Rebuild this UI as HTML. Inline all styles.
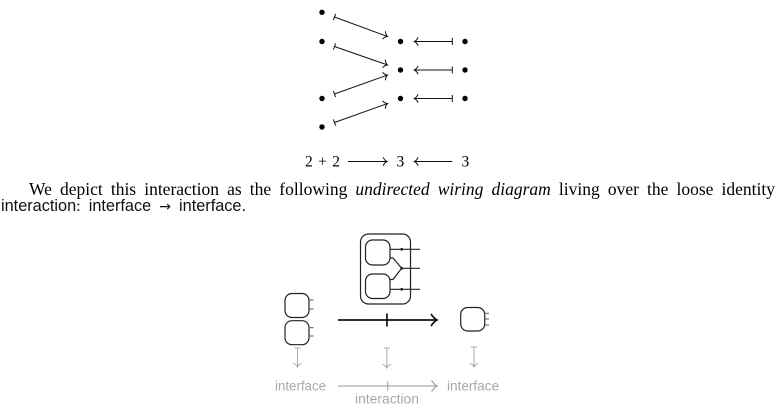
<!DOCTYPE html>
<html>
<head>
<meta charset="utf-8">
<style>
html,body{margin:0;padding:0;background:#fff;}
body{position:relative;width:778px;height:414px;overflow:hidden;}
svg{display:block;position:absolute;left:0;top:0;}
.l1{position:absolute;left:29px;top:179.1px;width:746px;font-family:"Liberation Serif",serif;font-size:17.5px;line-height:20px;text-align:justify;text-align-last:justify;color:#000;white-space:normal;}
.l2{position:absolute;left:1px;top:197.3px;width:245px;font-family:"Liberation Sans",sans-serif;font-size:16.3px;line-height:18px;text-align:justify;text-align-last:justify;color:#111;}
.sf{font-family:"Liberation Serif",serif;}
.ar{font-family:"DejaVu Sans",sans-serif;font-size:14px;}
</style>
</head>
<body>
<svg width="778" height="414" viewBox="0 0 778 414" xmlns="http://www.w3.org/2000/svg">
<defs>
<path id="hd" d="M-3.8,-4.2 C-2.6,-1.6 -1.2,-0.5 0,0 C-1.2,0.5 -2.6,1.6 -3.8,4.2" fill="none"/>
</defs>

<g fill="#000">
<circle cx="322" cy="12.3" r="2.7"/>
<circle cx="322" cy="41.5" r="2.7"/>
<circle cx="322" cy="98.5" r="2.7"/>
<circle cx="322" cy="127" r="2.7"/>
<circle cx="400.5" cy="41.5" r="2.7"/>
<circle cx="400.5" cy="70" r="2.7"/>
<circle cx="400.5" cy="98.5" r="2.7"/>
<circle cx="465" cy="41.5" r="2.7"/>
<circle cx="465" cy="70" r="2.7"/>
<circle cx="465" cy="98.5" r="2.7"/>
</g>
<g stroke="#111" stroke-width="1" fill="none">
<g transform="translate(334.5,17) rotate(20.2)">
<line x1="0" y1="0" x2="56.5" y2="0"/><line x1="0" y1="-3.3" x2="0" y2="3.3"/><use href="#hd" x="56.5" y="0"/>
</g>
<g transform="translate(334.5,46.5) rotate(19.2)">
<line x1="0" y1="0" x2="56.1" y2="0"/><line x1="0" y1="-3.3" x2="0" y2="3.3"/><use href="#hd" x="56.1" y="0"/>
</g>
<g transform="translate(334.5,94) rotate(-19.7)">
<line x1="0" y1="0" x2="56.3" y2="0"/><line x1="0" y1="-3.3" x2="0" y2="3.3"/><use href="#hd" x="56.3" y="0"/>
</g>
<g transform="translate(334.5,122.5) rotate(-19.7)">
<line x1="0" y1="0" x2="56.3" y2="0"/><line x1="0" y1="-3.3" x2="0" y2="3.3"/><use href="#hd" x="56.3" y="0"/>
</g>
<g transform="translate(414.3,41.5) rotate(180)">
<line x1="0" y1="0" x2="-38" y2="0"/><line x1="-38" y1="-3.5" x2="-38" y2="3.5"/><use href="#hd"/>
</g>
<g transform="translate(414.3,70) rotate(180)">
<line x1="0" y1="0" x2="-38" y2="0"/><line x1="-38" y1="-3.5" x2="-38" y2="3.5"/><use href="#hd"/>
</g>
<g transform="translate(414.3,98.5) rotate(180)">
<line x1="0" y1="0" x2="-38" y2="0"/><line x1="-38" y1="-3.5" x2="-38" y2="3.5"/><use href="#hd"/>
</g>
<g transform="translate(387,161.5)">
<line x1="-39" y1="0" x2="0" y2="0"/><use href="#hd"/>
</g>
<g transform="translate(414.3,161.5) rotate(180)">
<line x1="0" y1="0" x2="-38" y2="0"/><use href="#hd"/>
</g>
</g>
<g font-family="'Liberation Serif', serif" font-size="15.5" fill="#000">
<text x="305" y="166.5" textLength="35" lengthAdjust="spacing">2 + 2</text>
<text x="396.5" y="166.5">3</text>
<text x="461.5" y="166.5">3</text>
</g>

<g stroke="#222" stroke-width="1.2" fill="none">
<rect x="360.5" y="234" width="50" height="70" rx="8" ry="8"/>
<rect x="365.5" y="240" width="24.5" height="25" rx="7" ry="7"/>
<rect x="365.5" y="274" width="24.5" height="24.5" rx="7" ry="7"/>
<line x1="390" y1="249.3" x2="420" y2="249.3"/>
<line x1="390" y1="289.3" x2="420" y2="289.3"/>
<path d="M390,258 L393,258 L401.7,268.3 L393,279.5 L390,279.5"/>
<line x1="401.7" y1="268.3" x2="420" y2="268.3"/>
<rect x="285" y="293.5" width="24" height="24" rx="7" ry="7"/>
<rect x="285" y="320.7" width="24" height="24" rx="7" ry="7"/>
<rect x="460.7" y="307.5" width="24" height="23.5" rx="7" ry="7"/>
</g>
<g fill="#222">
<circle cx="401.7" cy="249.3" r="1.4"/>
<circle cx="401.7" cy="268.3" r="1.4"/>
<circle cx="401.7" cy="289.3" r="1.4"/>
</g>
<g stroke="#555" stroke-width="1" fill="none">
<line x1="309" y1="300" x2="313.5" y2="300"/>
<line x1="309" y1="309" x2="313.5" y2="309"/>
<line x1="309" y1="327.7" x2="313.5" y2="327.7"/>
<line x1="309" y1="336" x2="313.5" y2="336"/>
<line x1="484.7" y1="313.3" x2="489" y2="313.3"/>
<line x1="484.7" y1="319" x2="489" y2="319"/>
<line x1="484.7" y1="325" x2="489" y2="325"/>
</g>
<g stroke="#111" stroke-width="1.7" fill="none">
<line x1="338" y1="320" x2="436.5" y2="320"/>
<line x1="387" y1="313.5" x2="387" y2="326.5"/>
<path d="M431,314 C433,317 435,319 437,320 C435,321 433,323 431,326"/>
</g>

<g stroke="#aaa" stroke-width="1" fill="none">
<g transform="translate(297.5,367) rotate(90)">
<line x1="-19" y1="0" x2="0" y2="0"/><line x1="-19" y1="-3" x2="-19" y2="3"/><use href="#hd"/>
</g>
<g transform="translate(386.8,368) rotate(90)">
<line x1="-20" y1="0" x2="0" y2="0"/><line x1="-20" y1="-3" x2="-20" y2="3"/><use href="#hd"/>
</g>
<g transform="translate(474,367) rotate(90)">
<line x1="-20" y1="0" x2="0" y2="0"/><line x1="-20" y1="-3" x2="-20" y2="3"/><use href="#hd"/>
</g>
<line x1="338" y1="386" x2="436.5" y2="386" stroke-width="1.3"/>
<line x1="387.7" y1="381.5" x2="387.7" y2="390.5" stroke-width="1.3"/>
<path d="M431.5,380.5 C433.5,383 435,385 437,386 C435,387 433.5,389 431.5,391.5" stroke-width="1.3"/>
</g>
<g font-family="'Liberation Sans', sans-serif" font-size="13.5" fill="#a8a8a8">
<text x="275" y="390.5" textLength="51" lengthAdjust="spacingAndGlyphs">interface</text>
<text x="447" y="390.5" textLength="52" lengthAdjust="spacingAndGlyphs">interface</text>
<text x="355" y="403.3" textLength="64" lengthAdjust="spacingAndGlyphs">interaction</text>
</g>
</svg>
<div class="l1">We depict this interaction as the following <i>undirected wiring diagram</i> living over the loose identity</div>
<div class="l2">interaction<span class="sf">:</span> interface <span class="ar">→</span> interface.</div>
</body>
</html>
